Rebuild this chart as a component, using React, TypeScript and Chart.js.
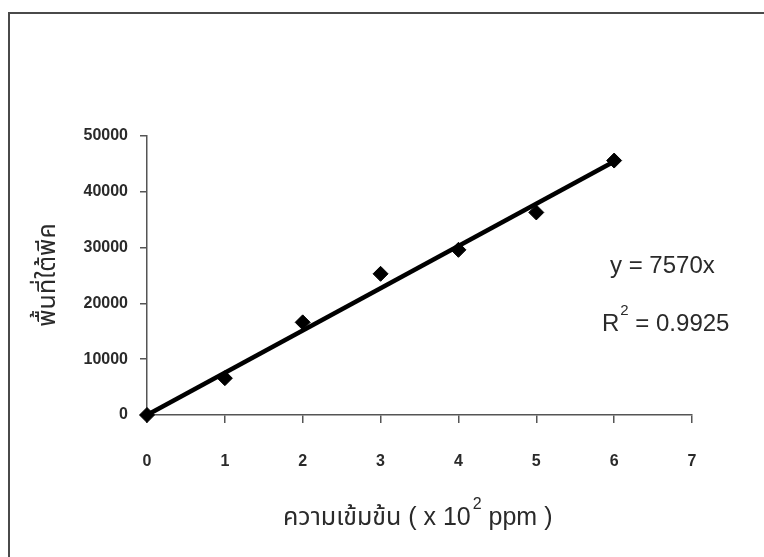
import React, { useEffect, useRef } from "react";
import { Chart, registerables } from "chart.js";

Chart.register(...registerables);

// ---- data ----
const concentration = [0, 1, 2, 3, 4, 5, 6]; // x 10^2 ppm
const peakArea = [0, 6600, 16600, 25300, 29600, 36300, 45600];
const trendX = [0, 6];
const trendY = [0, 45420];
const xTickValues = [0, 1, 2, 3, 4, 5, 6, 7];
const yTickValues = [0, 10000, 20000, 30000, 40000, 50000];
const yTitle = "พื้นที่ใต้พีค";
const xTitleMain = "ความเข้มข้น ( x 10";
const xTitleSup = "2";
const xTitleEnd = " ppm )";
const equationText = "y = 7570x";
const r2Label = "R";
const r2Sup = "2";
const r2Value = " = 0.9925";

const FONT = "'Liberation Sans', Arial, 'Noto Sans Thai', 'Noto Sans', sans-serif";
const TEXT = "#2a2a2a";

const overlay = {
  id: "overlay",
  afterDraw(chart: any) {
    const ctx = chart.ctx as CanvasRenderingContext2D;
    ctx.save();
    // frame lines
    ctx.strokeStyle = "#4a4a4a";
    ctx.lineWidth = 2;
    ctx.beginPath();
    ctx.moveTo(9, 557);
    ctx.lineTo(9, 13);
    ctx.lineTo(764, 13);
    ctx.stroke();

    ctx.fillStyle = TEXT;
    // y title
    ctx.save();
    ctx.translate(48, 275);
    ctx.rotate(-Math.PI / 2);
    ctx.font = `25px ${FONT}`;
    ctx.textAlign = "center";
    ctx.textBaseline = "middle";
    ctx.fillText(yTitle, 0, 0);
    ctx.restore();

    // x title
    ctx.textBaseline = "alphabetic";
    ctx.textAlign = "left";
    let x = 283;
    const base = 525;
    ctx.font = `25px ${FONT}`;
    ctx.fillText(xTitleMain, x, base);
    x += ctx.measureText(xTitleMain).width + 2;
    ctx.font = `16px ${FONT}`;
    ctx.fillText(xTitleSup, x, base - 16);
    x += ctx.measureText(xTitleSup).width;
    ctx.font = `25px ${FONT}`;
    ctx.fillText(xTitleEnd, x, base);

    // equation
    ctx.font = `24px ${FONT}`;
    ctx.textBaseline = "middle";
    ctx.fillText(equationText, 610, 266);
    let rx = 602;
    ctx.fillText(r2Label, rx, 324);
    rx += ctx.measureText(r2Label).width + 1;
    ctx.font = `15px ${FONT}`;
    ctx.fillText(r2Sup, rx, 311);
    rx += ctx.measureText(r2Sup).width;
    ctx.font = `24px ${FONT}`;
    ctx.fillText(r2Value, rx, 324);
    ctx.restore();
  },
};

export default function App() {
  const ref = useRef<HTMLCanvasElement | null>(null);
  useEffect(() => {
    if (!ref.current) return;
    const chart = new Chart(ref.current, {
      type: "scatter",
      data: {
        datasets: [
          {
            type: "line",
            label: "trend",
            data: trendX.map((v, i) => ({ x: v, y: trendY[i] })),
            borderColor: "#000",
            borderWidth: 4.5,
            pointRadius: 0,
            fill: false,
            clip: false,
            order: 2,
          } as any,
          {
            type: "scatter",
            label: "area",
            data: concentration.map((v, i) => ({ x: v, y: peakArea[i] })),
            pointStyle: "rectRot",
            pointRadius: 7.5,
            backgroundColor: "#000",
            borderColor: "#000",
            borderWidth: 1,
            clip: false,
            order: 1,
          } as any,
        ],
      },
      options: {
        responsive: false,
        animation: false,
        layout: { padding: { top: 136, right: 72, left: 0, bottom: 0 } },
        plugins: {
          legend: { display: false },
          tooltip: { enabled: false },
          title: { display: false },
        },
        scales: {
          x: {
            type: "linear",
            min: 0,
            max: 7,
            afterBuildTicks: (s: any) => {
              s.ticks = xTickValues.map((v) => ({ value: v }));
            },
            afterFit: (s: any) => {
              s.height = 142;
            },
            ticks: {
              color: TEXT,
              font: { family: FONT, size: 16, weight: "bold" },
              padding: 29,
              maxRotation: 0,
            },
            grid: {
              drawOnChartArea: false,
              drawTicks: true,
              tickLength: 8,
              color: "#555",
              lineWidth: 1.5,
            },
            border: { display: true, color: "#555", width: 1.5 },
          },
          y: {
            type: "linear",
            min: 0,
            max: 50000,
            afterBuildTicks: (s: any) => {
              s.ticks = yTickValues.map((v) => ({ value: v }));
            },
            afterFit: (s: any) => {
              s.width = 147;
            },
            ticks: {
              color: TEXT,
              font: { family: FONT, size: 16, weight: "bold" },
              padding: 12,
              callback: (v: any) => String(v),
            },
            grid: {
              drawOnChartArea: false,
              drawTicks: true,
              tickLength: 7,
              color: "#555",
              lineWidth: 1.5,
            },
            border: { display: true, color: "#555", width: 1.5 },
          },
        },
      },
      plugins: [overlay],
    });
    return () => chart.destroy();
  }, []);
  return (
    <div style={{ position: "fixed", left: 0, top: 0, width: 764, height: 557, background: "#fff" }}>
      <canvas ref={ref} width={764} height={557} style={{ display: "block" }} />
    </div>
  );
}
